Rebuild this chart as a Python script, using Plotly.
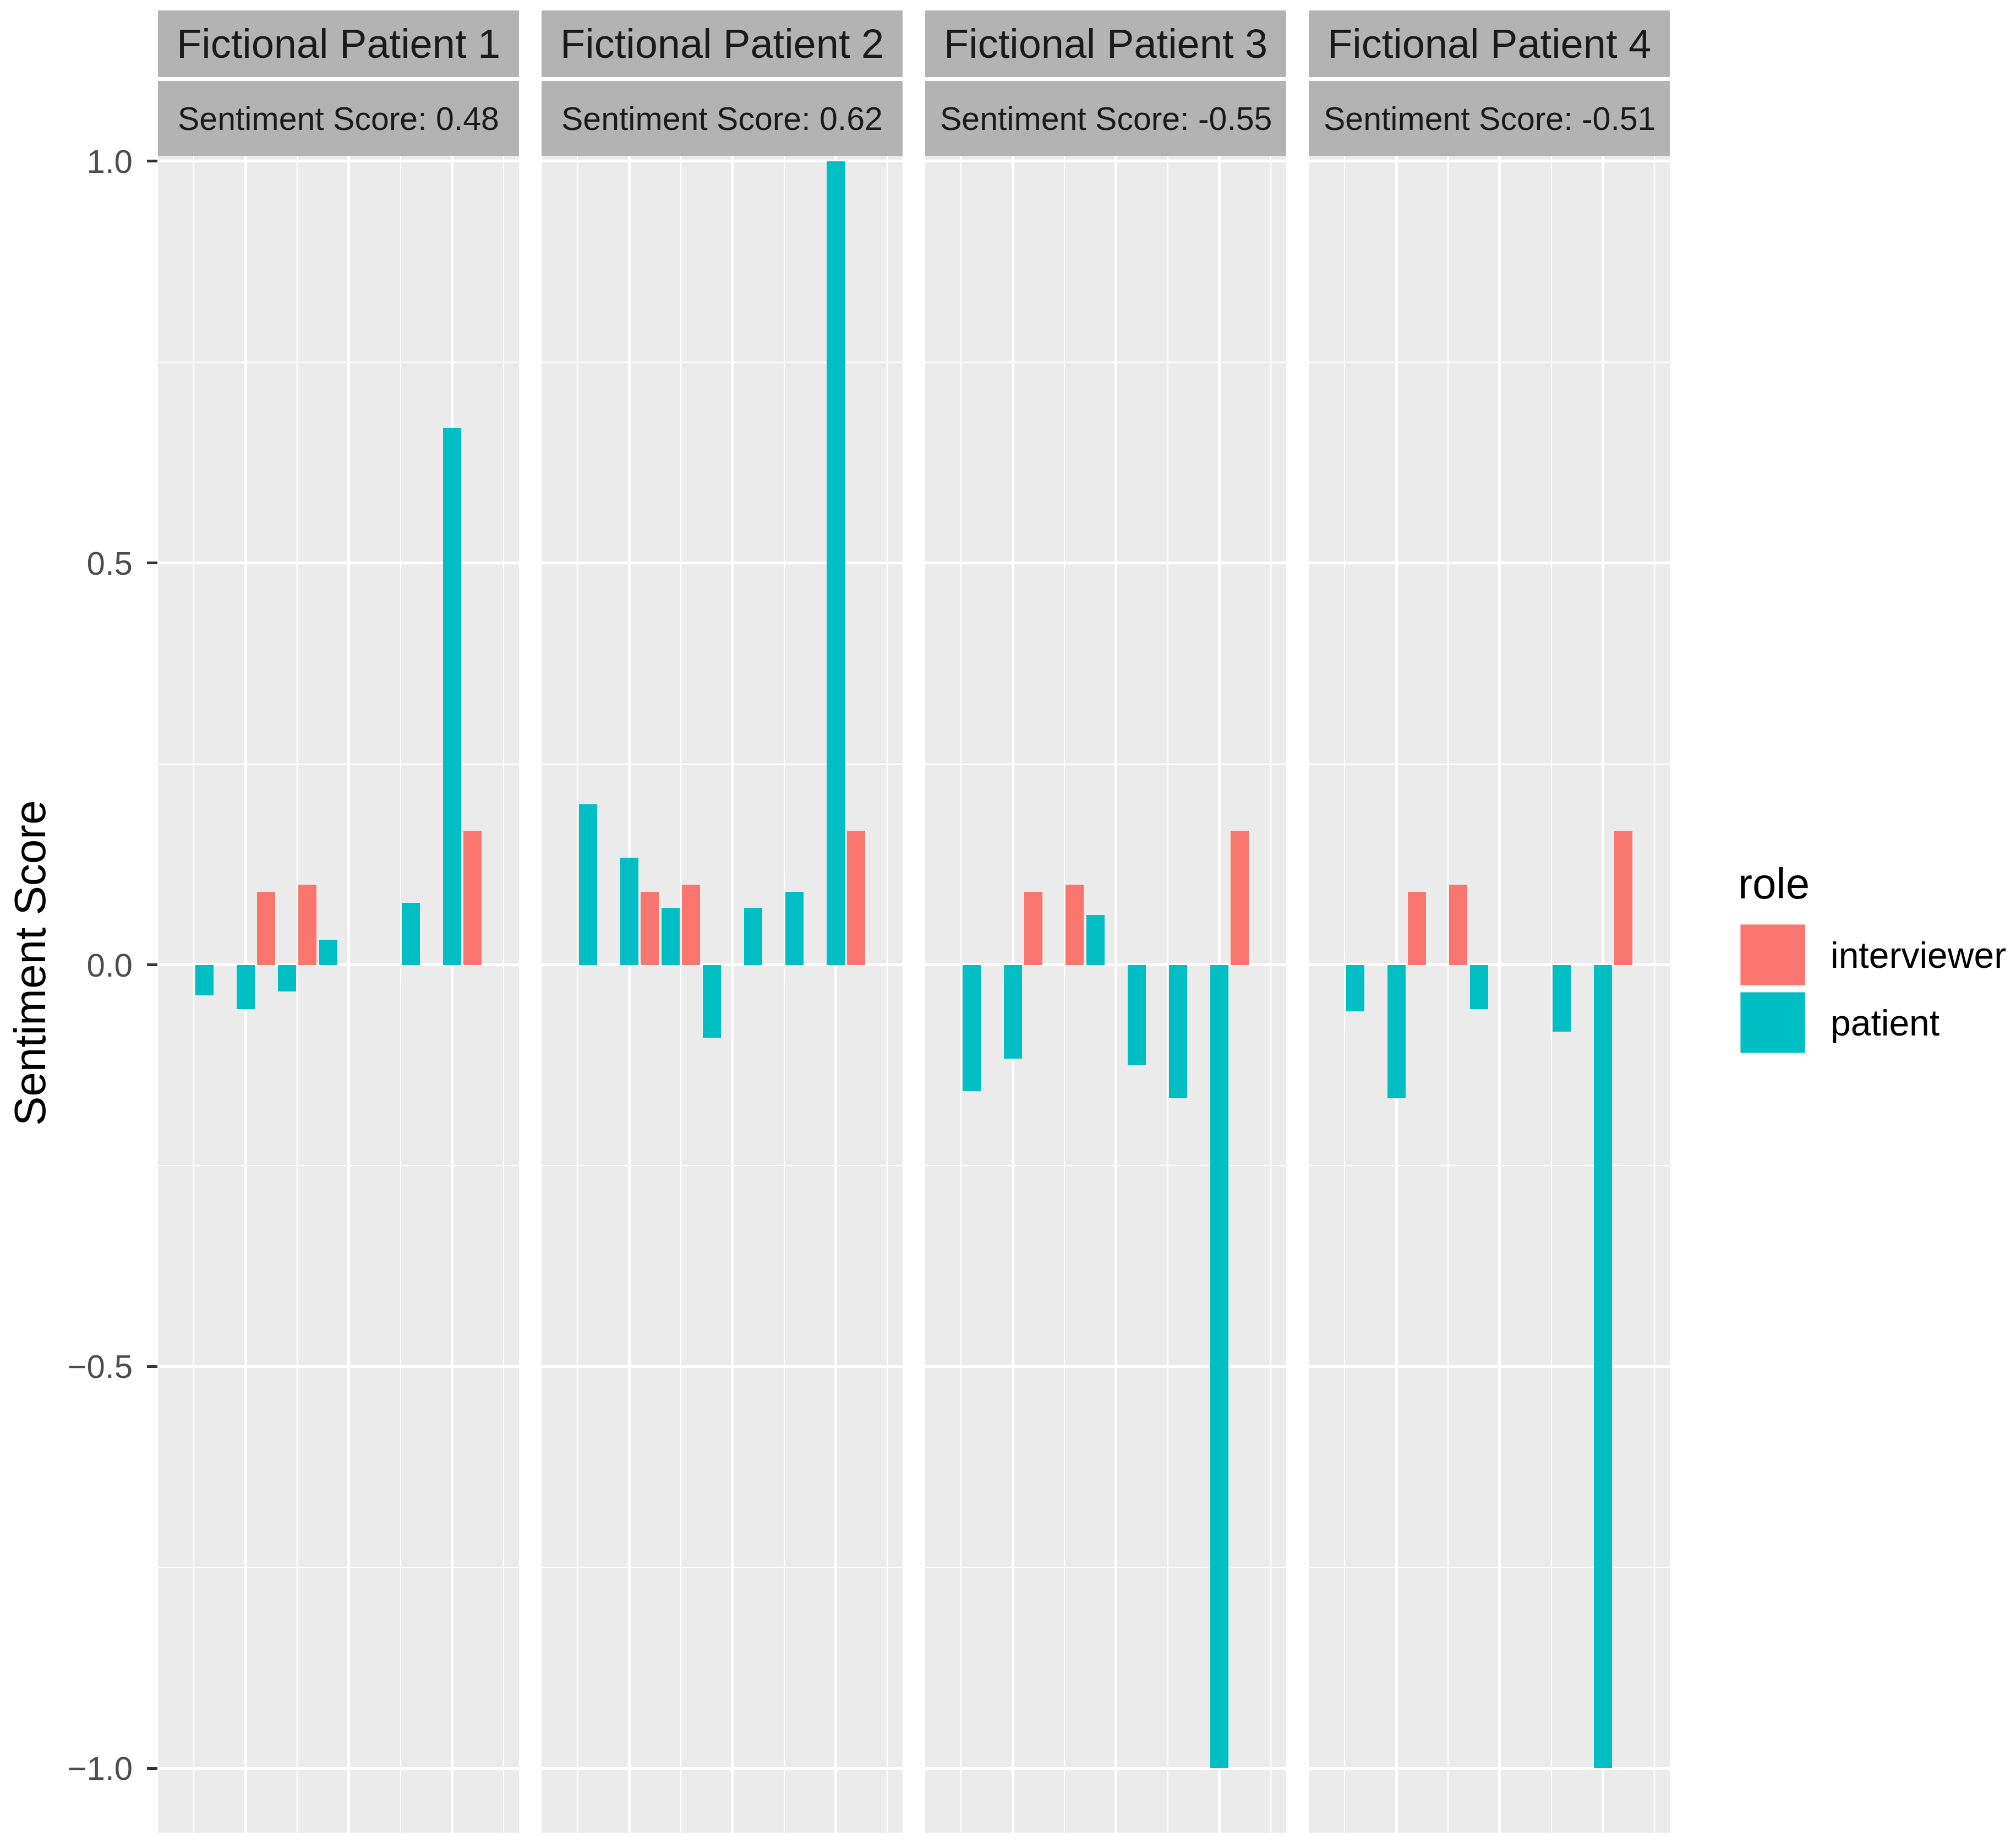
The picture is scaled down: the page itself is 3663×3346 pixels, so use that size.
import plotly.graph_objects as go

W, H = 3663, 3346

# ---------------- data ----------------
patients = ["Fictional Patient 1", "Fictional Patient 2", "Fictional Patient 3", "Fictional Patient 4"]
overall_scores = ["0.48", "0.62", "-0.55", "-0.51"]
roles = ["interviewer", "patient"]
role_colors = ["#F8766D", "#00BFC4"]

interviewer_turns = [6, 8, 16]
interviewer_p1 = [0.091, 0.100, 0.167]
interviewer_p2 = [0.091, 0.100, 0.167]
interviewer_p3 = [0.091, 0.100, 0.167]
interviewer_p4 = [0.091, 0.100, 0.167]

patient_turns = [3, 5, 7, 9, 11, 13, 15]
patient_p1 = [-0.038, -0.055, -0.033, 0.031, 0.0, 0.077, 0.668]
patient_p2 = [0.200, 0.133, 0.071, -0.091, 0.071, 0.091, 1.0]
patient_p3 = [-0.157, -0.117, 0.0, 0.062, -0.125, -0.166, -1.0]
patient_p4 = [-0.058, -0.166, 0.0, -0.055, 0.0, -0.083, -1.0]

interviewer_vals = [interviewer_p1, interviewer_p2, interviewer_p3, interviewer_p4]
patient_vals = [patient_p1, patient_p2, patient_p3, patient_p4]

y_ticks = [-1.0, -0.5, 0.0, 0.5, 1.0]
y_ticklabels = ["\u22121.0", "\u22120.5", "0.0", "0.5", "1.0"]

# ---------------- layout geometry (pixels) ----------------
FONT = "Liberation Sans, Arial, Helvetica, sans-serif"
panel_left = [287, 984, 1681, 2378]
panel_w = 656
panel_top, panel_bot = 283, 3329
strip1 = (19, 140)
strip2 = (147, 283)
x_range = [0.755, 18.245]
y_range = [-1.080, 1.0067]


def px(x):
    return x / W


def py(y):
    return 1 - y / H


fig = go.Figure()

for i in range(4):
    ax = "" if i == 0 else str(i + 1)
    fig.add_trace(go.Bar(
        x=interviewer_turns, y=interviewer_vals[i], width=0.87,
        marker=dict(color=role_colors[0], line=dict(width=0)),
        name=roles[0], showlegend=False,
        xaxis="x" + ax, yaxis="y" + ax,
    ))
    fig.add_trace(go.Bar(
        x=patient_turns, y=patient_vals[i], width=0.87,
        marker=dict(color=role_colors[1], line=dict(width=0)),
        name=roles[1], showlegend=False,
        xaxis="x" + ax, yaxis="y" + ax,
    ))

layout = dict(
    width=W, height=H,
    margin=dict(l=0, r=0, t=0, b=0, pad=0, autoexpand=False),
    paper_bgcolor="white", plot_bgcolor="#EBEBEB",
    barmode="overlay", bargap=0,
    font=dict(family=FONT, color="#1A1A1A"),
    showlegend=False,
)

for i in range(4):
    ax = "" if i == 0 else str(i + 1)
    x0 = panel_left[i]
    layout["xaxis" + ax] = dict(
        domain=[px(x0), px(x0 + panel_w)], range=x_range,
        anchor="y" + ax, showticklabels=False, ticks="",
        showgrid=True, gridcolor="white", gridwidth=4.5,
        tick0=0, dtick=5, zeroline=False, showline=False,
        minor=dict(showgrid=True, gridcolor="white", gridwidth=2.3, tick0=0, dtick=2.5),
        fixedrange=True, automargin=False,
    )
    yd = dict(
        domain=[py(panel_bot), py(panel_top)], range=y_range,
        anchor="x" + ax, showgrid=True, gridcolor="white", gridwidth=4.5,
        tickvals=y_ticks, zeroline=False, showline=False,
        minor=dict(showgrid=True, gridcolor="white", gridwidth=2.3, tick0=0, dtick=0.25),
        fixedrange=True, automargin=False,
    )
    if i == 0:
        yd.update(ticktext=y_ticklabels, ticks="outside", ticklen=19, tickwidth=4.5,
                  tickcolor="#333333", showticklabels=True,
                  tickfont=dict(family=FONT, size=60, color="#4D4D4D"),
                  ticklabelstandoff=14)
    else:
        yd.update(showticklabels=False, ticks="")
        yd["matches"] = "y"
    layout["yaxis" + ax] = yd

shapes = []
annotations = []
for i in range(4):
    x0 = panel_left[i]
    x1 = x0 + panel_w
    shapes.append(dict(type="rect", xref="paper", yref="paper",
                       x0=px(x0), x1=px(x1), y0=py(strip1[1]), y1=py(strip1[0]),
                       fillcolor="#B3B3B3", line=dict(width=0), layer="above"))
    shapes.append(dict(type="rect", xref="paper", yref="paper",
                       x0=px(x0), x1=px(x1), y0=py(strip2[1]), y1=py(strip2[0]),
                       fillcolor="#B3B3B3", line=dict(width=0), layer="above"))
    annotations.append(dict(xref="paper", yref="paper", x=px((x0 + x1) / 2),
                            y=py((strip1[0] + strip1[1]) / 2 + 0),
                            text=patients[i], showarrow=False,
                            xanchor="center", yanchor="middle",
                            font=dict(family=FONT, size=74, color="#1A1A1A")))
    annotations.append(dict(xref="paper", yref="paper", x=px((x0 + x1) / 2),
                            y=py((strip2[0] + strip2[1]) / 2 + 1),
                            text="Sentiment Score: " + overall_scores[i], showarrow=False,
                            xanchor="center", yanchor="middle",
                            font=dict(family=FONT, size=59, color="#1A1A1A")))

# y axis title
annotations.append(dict(xref="paper", yref="paper", x=px(54), y=py(1750),
                        text="Sentiment Score", textangle=-90, showarrow=False,
                        xanchor="center", yanchor="middle",
                        font=dict(family=FONT, size=80, color="black")))

# legend (manual, ggplot style)
annotations.append(dict(xref="paper", yref="paper", x=px(3156), y=py(1605),
                        text="role", showarrow=False, xanchor="left", yanchor="middle",
                        font=dict(family=FONT, size=78, color="black")))
key_tops = [1678, 1801]
for k in range(2):
    shapes.append(dict(type="rect", xref="paper", yref="paper",
                       x0=px(3161), x1=px(3281), y0=py(key_tops[k] + 113), y1=py(key_tops[k]),
                       fillcolor=role_colors[k], line=dict(width=3, color="#F2F2F2")))
    annotations.append(dict(xref="paper", yref="paper", x=px(3324), y=py(key_tops[k] + 57),
                            text=roles[k], showarrow=False, xanchor="left", yanchor="middle",
                            font=dict(family=FONT, size=66, color="black")))

layout["shapes"] = shapes
layout["annotations"] = annotations
fig.update_layout(**layout)

fig.write_html(
    "out.html",
    config={"displayModeBar": False},
    post_script="document.body.style.margin='0px';document.documentElement.style.margin='0px';",
)
